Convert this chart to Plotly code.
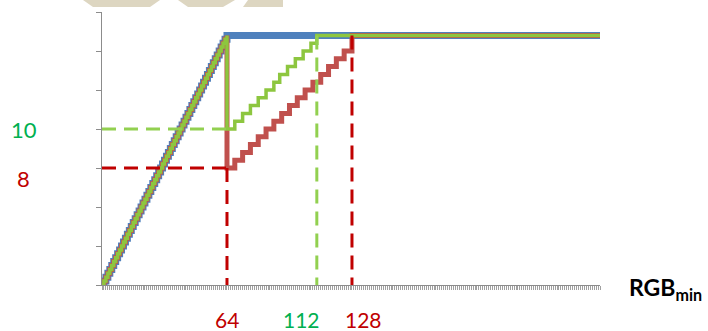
import plotly.graph_objects as go

# ── data (x = RGBmin, y = output level) ─────────────────────────────────────
ramp_x = [0, 1, 2, 3, 4, 5, 6, 7, 8, 9, 10, 11, 12, 13, 14, 15, 16,
          17, 18, 19, 20, 21, 22, 23, 24, 25, 26, 27, 28, 29, 30, 31, 32,
          33, 34, 35, 36, 37, 38, 39, 40, 41, 42, 43, 44, 45, 46, 47, 48,
          49, 50, 51, 52, 53, 54, 55, 56, 57, 58, 59, 60, 61, 62, 63, 64]
ramp_y = [0, 0.5, 1, 1.5, 2, 2.5, 3, 3.5, 4, 4.5, 5, 5.5, 6, 6.5, 7, 7.5, 8,
          8.5, 9, 9.5, 10, 10.5, 11, 11.5, 12, 12.5, 13, 13.5, 14, 14.5, 15, 15.5, 16,
          16.5, 17, 17.5, 18, 18.5, 19, 19.5, 20, 20.5, 21, 21.5, 22, 22.5, 23, 23.5, 24,
          24.5, 25, 25.5, 26, 26.5, 27, 27.5, 28, 28.5, 29, 29.5, 30, 30.5, 31, 31.5, 32]

blue_x = ramp_x + [255]
blue_y = ramp_y + [32]

green_step_x = [64, 64, 68, 72, 76, 80, 84, 88, 91, 95, 99, 103, 107, 110, 255]
green_step_y = [32, 20, 21, 22, 23, 24, 25, 26, 27, 28, 29, 30, 31, 32, 32]

red_step_x = [64, 64, 68, 72, 76, 80, 84, 88, 92, 96, 100, 104, 108, 112,
              116, 120, 124, 128, 255]
red_step_y = [32, 15, 16, 17, 18, 19, 20, 21, 22, 23, 24, 25, 26, 27,
              28, 29, 30, 32, 32]

# reference marks: (x values, y values, colour)
ref_lines = [
    ([0, 64], [20, 20], "#92D050"),
    ([110, 110], [32, 0], "#92D050"),
    ([0, 64], [15, 15], "#C00000"),
    ([64, 64], [15, 0], "#C00000"),
    ([128, 128], [32, 0], "#C00000"),
]

level_labels = ["10", "8"]
level_label_y = [20, 13.7]
level_colors = ["#00B050", "#C00000"]

x_labels = ["64", "112", "128"]
x_label_pos = [64, 102, 134]
x_label_colors = ["#C00000", "#00B050", "#C00000"]

X_MAX, Y_MAX = 255, 35

fig = go.Figure()

fig.add_trace(go.Scatter(x=blue_x, y=blue_y, mode="lines", line_shape="hv",
                         line=dict(color="#4F81BD", width=7)))
fig.add_trace(go.Scatter(x=ramp_x + red_step_x, y=ramp_y + red_step_y,
                         mode="lines", line_shape="hv",
                         line=dict(color="#C0504D", width=5)))
fig.add_trace(go.Scatter(x=ramp_x + green_step_x, y=ramp_y + green_step_y,
                         mode="lines", line_shape="hv",
                         line=dict(color="#8DC63F", width=3.5)))

for xs, ys, col in ref_lines:
    fig.add_trace(go.Scatter(x=xs, y=ys, mode="lines",
                             line=dict(color=col, width=3, dash="14px,8px")))

# labels sit outside the axes, so place them in paper units
annotations = []
for txt, yy, col in zip(level_labels, level_label_y, level_colors):
    annotations.append(dict(x=-40 / X_MAX, y=yy / Y_MAX, xref="paper", yref="paper",
                            xanchor="center", yanchor="middle",
                            text=txt, showarrow=False,
                            font=dict(size=22, color=col)))
for txt, xx, col in zip(x_labels, x_label_pos, x_label_colors):
    annotations.append(dict(x=xx / X_MAX, y=-2.6 / Y_MAX, xref="paper", yref="paper",
                            xanchor="center", yanchor="top",
                            text=txt, showarrow=False,
                            font=dict(size=21, color=col)))
annotations.append(dict(x=269 / X_MAX, y=-0.5 / Y_MAX, xref="paper", yref="paper",
                        xanchor="left", yanchor="middle",
                        text="<b>RGB<sub>min</sub></b>",
                        showarrow=False, font=dict(size=23, color="black")))


# beige decoration at the top edge (pixel coords -> paper)
def px(x):
    return (x - 102) / 498


def py(y):
    return (285 - y) / 273


shapes = []
for (tl, tr, bl, br) in [(83, 160, 93, 150), (178, 235, 188, 223), (248, 283, 243, 283)]:
    path = (f"M {px(tl)} {py(0)} L {px(tr)} {py(0)} L {px(br)} {py(7)} "
            f"L {px(bl)} {py(7)} Z")
    shapes.append(dict(type="path", xref="paper", yref="paper", path=path,
                       fillcolor="#DDD6C1", line=dict(width=0), layer="below"))

fig.update_layout(
    width=708, height=331,
    margin=dict(l=102, r=108, t=12, b=46),
    showlegend=False,
    paper_bgcolor="white",
    plot_bgcolor="white",
    font=dict(family="Lato, Open Sans, sans-serif"),
    annotations=annotations,
    shapes=shapes,
    xaxis=dict(range=[0, X_MAX], showgrid=False, zeroline=False,
               showline=True, linecolor="#8C8C8C", linewidth=1,
               ticks="outside", ticklen=4, tickcolor="#A0A0A0", dtick=1,
               showticklabels=False),
    yaxis=dict(range=[0, Y_MAX], showgrid=False, zeroline=False,
               showline=True, linecolor="#8C8C8C", linewidth=1,
               ticks="outside", ticklen=5, tickcolor="#8C8C8C", dtick=5,
               showticklabels=False),
)

fig.write_html("out.html", config={"displayModeBar": False},
               post_script="document.body.style.margin='0';")
